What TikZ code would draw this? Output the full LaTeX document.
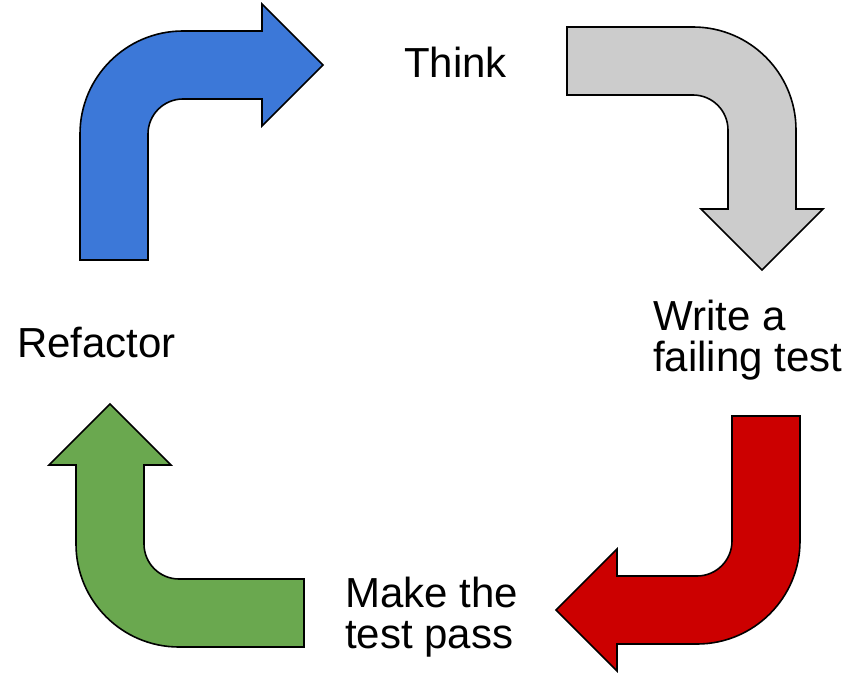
\documentclass[tikz,border=0pt]{standalone}
\usepackage{fontspec}
\setmainfont{Liberation Sans}
\definecolor{gblue}{HTML}{3C78D8}
\definecolor{ggray}{HTML}{CCCCCC}
\definecolor{gred}{HTML}{CC0000}
\definecolor{ggreen}{HTML}{6AA84F}
\tikzset{
  bentarrow/.style={draw=black, line width=1.6pt, line join=miter},
  lbl/.style={inner sep=0pt, font=\fontsize{42}{41}\selectfont, align=left, anchor=base west}
}
\begin{document}
\begin{tikzpicture}[x=1pt,y=-1pt]
\useasboundingbox (0,0) rectangle (851,674);
% blue: up then right
\path[bentarrow, fill=gblue] (80,260) -- (80,134) arc[start angle=180,end angle=270,radius=103]
  -- (262,31) -- (262,4) -- (323,65) -- (262,126) -- (262,99) -- (183,99)
  arc[start angle=270,end angle=180,radius=35] -- (148,260) -- cycle;
% gray: right then down
\path[bentarrow, fill=ggray] (567,27) -- (693,27) arc[start angle=270,end angle=360,radius=103]
  -- (796,209) -- (823,209) -- (762,270) -- (701,209) -- (728,209) -- (728,130)
  arc[start angle=0,end angle=-90,radius=35] -- (567,95) -- cycle;
% red: down then left
\path[bentarrow, fill=gred] (732,416) -- (800,416) -- (800,541) arc[start angle=0,end angle=90,radius=103]
  -- (617,644) -- (617,671) -- (556,610) -- (617,549) -- (617,576) -- (697,576)
  arc[start angle=90,end angle=0,radius=35] -- cycle;
% green: left then up
\path[bentarrow, fill=ggreen] (110,404) -- (171,465) -- (144,465) -- (144,544)
  arc[start angle=180,end angle=90,radius=35] -- (304,579) -- (304,647) -- (179,647)
  arc[start angle=90,end angle=180,radius=103] -- (76,465) -- (49,465) -- cycle;
\node[lbl] (think) at (404,78) {Think};
\node[lbl] (write) at (653,371) {Write a\\failing test};
\node[lbl] (make) at (345,648) {Make the\\test pass};
\node[lbl] (refactor) at (17,357) {Refactor};
\end{tikzpicture}
\end{document}
